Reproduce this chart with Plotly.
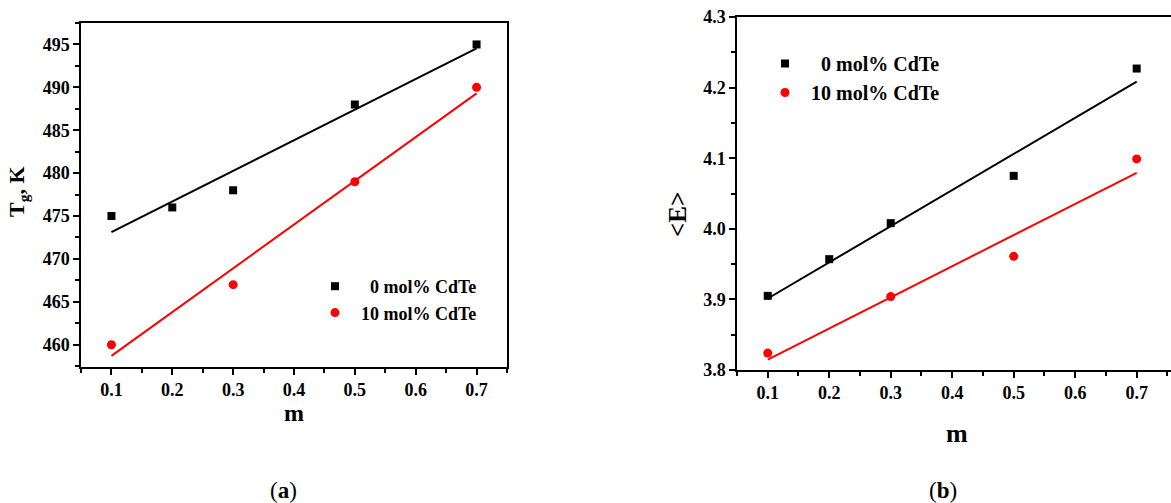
import numpy as np
import plotly.graph_objects as go

# ---- data ----
m_a0 = [0.1, 0.2, 0.3, 0.5, 0.7]
tg_a0 = [475, 476, 478, 488, 495]
m_a10 = [0.1, 0.3, 0.5, 0.7]
tg_a10 = [460, 467, 479, 490]

m_b0 = [0.1, 0.2, 0.3, 0.5, 0.7]
e_b0 = [3.905, 3.957, 4.008, 4.075, 4.227]
m_b10 = [0.1, 0.3, 0.5, 0.7]
e_b10 = [3.824, 3.904, 3.961, 4.099]

name0 = '<span style="color:#ffffff">1</span>0 mol% CdTe'
name10 = '10 mol% CdTe'

W, H = 1171, 503
FONT = "Liberation Serif"


def fit(x, y):
    k, b = np.polyfit(x, y, 1)
    xs = np.array([min(x), max(x)])
    return xs, k * xs + b


fig = go.Figure()

# panel (a)
fx, fy = fit(m_a0, tg_a0)
fig.add_trace(go.Scatter(x=fx, y=fy, mode="lines", line=dict(color="black", width=2),
                         showlegend=False, xaxis="x", yaxis="y"))
fx, fy = fit(m_a10, tg_a10)
fig.add_trace(go.Scatter(x=fx, y=fy, mode="lines", line=dict(color="#ff0000", width=2),
                         showlegend=False, xaxis="x", yaxis="y"))
fig.add_trace(go.Scatter(x=m_a0, y=tg_a0, mode="markers", name=name0,
                         marker=dict(symbol="square", size=8, color="black"),
                         xaxis="x", yaxis="y", legend="legend"))
fig.add_trace(go.Scatter(x=m_a10, y=tg_a10, mode="markers", name=name10,
                         marker=dict(symbol="circle", size=9, color="#ff0000"),
                         xaxis="x", yaxis="y", legend="legend"))

# panel (b)
fx, fy = fit(m_b0, e_b0)
fig.add_trace(go.Scatter(x=fx, y=fy, mode="lines", line=dict(color="black", width=2),
                         showlegend=False, xaxis="x2", yaxis="y2"))
fx, fy = fit(m_b10, e_b10)
fig.add_trace(go.Scatter(x=fx, y=fy, mode="lines", line=dict(color="#ff0000", width=2),
                         showlegend=False, xaxis="x2", yaxis="y2"))
fig.add_trace(go.Scatter(x=m_b0, y=e_b0, mode="markers", name=name0,
                         marker=dict(symbol="square", size=8, color="black"),
                         xaxis="x2", yaxis="y2", legend="legend2"))
fig.add_trace(go.Scatter(x=m_b10, y=e_b10, mode="markers", name=name10,
                         marker=dict(symbol="circle", size=9, color="#ff0000"),
                         xaxis="x2", yaxis="y2", legend="legend2"))

tickfont = dict(family=FONT, size=18, color="black", weight="bold")


def axis(**kw):
    d = dict(showgrid=False, zeroline=False, showline=True, linecolor="black",
             linewidth=1.5, ticks="outside", ticklen=6, tickwidth=1.5,
             tickcolor="black", tickfont=tickfont, automargin=False,
             minor=dict(ticks="outside", ticklen=4, tickwidth=1.5, tickcolor="black"))
    d.update(kw)
    return d


def px_x(p):
    return p / W


def px_y(p):
    return 1 - p / H


fig.update_layout(
    width=W, height=H,
    margin=dict(l=0, r=0, t=0, b=0, pad=0, autoexpand=False),
    paper_bgcolor="white", plot_bgcolor="white",
    font=dict(family=FONT, color="black"),
    xaxis=axis(domain=[px_x(81), px_x(507)], range=[0.05, 0.75], dtick=0.1, tick0=0.1,
               tickformat=".1f", mirror=True, anchor="y", minor_dtick=0.05),
    yaxis=axis(domain=[px_y(367), px_y(23)], range=[457.4, 497.5], dtick=5, tick0=460,
               mirror=True, anchor="x", minor_dtick=2.5),
    xaxis2=axis(domain=[px_x(737), 1.0], range=[0.05, 0.7558], dtick=0.1, tick0=0.1,
                tickformat=".1f", mirror=True, anchor="y2", minor_dtick=0.05),
    yaxis2=axis(domain=[px_y(370), px_y(17)], range=[3.8, 4.3], dtick=0.1, tick0=3.8,
                tickformat=".1f", mirror=False, anchor="x2", minor_dtick=0.05),
    legend=dict(x=px_x(309), y=px_y(268), xanchor="left", yanchor="top",
                bgcolor="rgba(0,0,0,0)", itemwidth=42,
                font=dict(family=FONT, size=18, color="black", weight="bold")),
    legend2=dict(x=px_x(759), y=px_y(44), xanchor="left", yanchor="top",
                 bgcolor="rgba(0,0,0,0)", itemwidth=42,
                 font=dict(family=FONT, size=20, color="black", weight="bold")),
)

ann = [
    dict(x=px_x(294), y=px_y(413), text="<b>m</b>", font_size=24),
    dict(x=px_x(18), y=px_y(192), text="<b>T<sub>g</sub>, K</b>", font_size=22, textangle=-90),
    dict(x=px_x(957), y=px_y(433), text="<b>m</b>", font_size=26),
    dict(x=px_x(677), y=px_y(215), text="<b>&lt;E&gt;</b>", font_size=25, textangle=-90),
    dict(x=px_x(283), y=px_y(490), text="(<b>a</b>)", font_size=23),
    dict(x=px_x(943), y=px_y(490), text="(<b>b</b>)", font_size=23),
]
for a in ann:
    fig.add_annotation(xref="paper", yref="paper", showarrow=False,
                       xanchor="center", yanchor="middle",
                       font=dict(family=FONT, color="black", size=a.pop("font_size")), **a)

fig.write_html("out.html", config={"displayModeBar": False},
               post_script="document.body.style.margin='0px';document.body.style.overflow='hidden';")
